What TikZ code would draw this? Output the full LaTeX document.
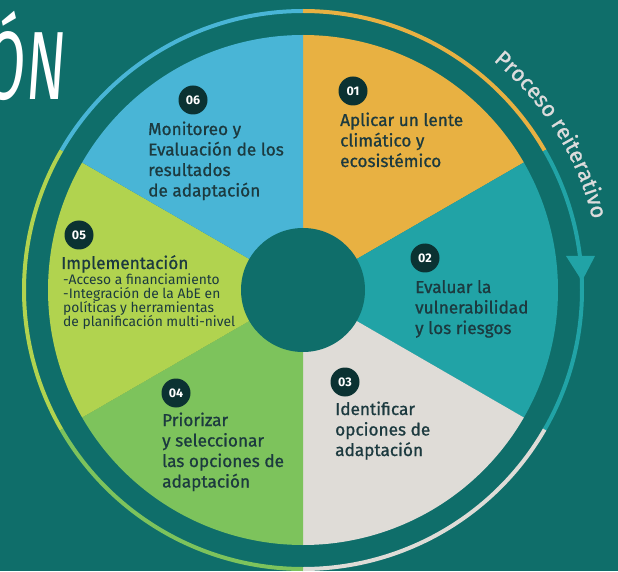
\documentclass[tikz,border=0pt]{standalone}
\usepackage{fontspec}
\setmainfont{Fira Sans}
\newfontfamily\medfont{Fira Sans}[FakeBold=0.9]
\newfontfamily\onfont{Fira Sans}[FakeSlant=0.12]
\usetikzlibrary{decorations.text,calc}
\definecolor{bg}{HTML}{0F6E6A}
\definecolor{cblue}{HTML}{49B5D6}
\definecolor{corange}{HTML}{E8B142}
\definecolor{cteal}{HTML}{21A3A6}
\definecolor{cgray}{HTML}{DFDCD7}
\definecolor{cgreen}{HTML}{7DC35C}
\definecolor{clgreen}{HTML}{B1D34F}
\definecolor{cdark}{HTML}{0B3232}
\definecolor{ctext}{HTML}{1C3A3F}
\definecolor{cproc}{HTML}{DCDCDC}
\tikzset{
  ring/.style={line width=4pt},
  numcircle/.style={circle, fill=cdark, text=white, minimum size=29pt, inner sep=0pt, font=\bfseries\fontsize{12.5}{12.5}\selectfont},
  titletext/.style={anchor=base west, align=left, inner sep=0pt, text=ctext, font=\medfont\fontsize{17.2}{20.5}\selectfont},
  smalltext/.style={anchor=base west, align=left, inner sep=0pt, text=ctext, font=\fontsize{13.8}{14.2}\selectfont},
}
\begin{document}
\begin{tikzpicture}[x=1pt,y=1pt]
\clip (0,0) rectangle (618,571);
\fill[bg] (0,0) rectangle (618,571);
\coordinate (C) at (303,281);
% sectors
\fill[corange] (C) -- ++(90:255) arc (90:30:255) -- cycle;
\fill[cteal] (C) -- ++(30:255) arc (30:-30:255) -- cycle;
\fill[cgray] (C) -- ++(-30:255) arc (-30:-90:255) -- cycle;
\fill[cgreen] (C) -- ++(-90:255) arc (-90:-150:255) -- cycle;
\fill[clgreen] (C) -- ++(-150:255) arc (-150:-210:255) -- cycle;
\fill[cblue] (C) -- ++(150:255) arc (150:90:255) -- cycle;
\fill[bg] (C) circle (62);
% outer ring
\draw[ring, cblue] (C) ++(90:279) arc (90:150:279);
\draw[ring, corange] (C) ++(90:279) arc (90:30:279);
\draw[ring, cteal] (C) ++(30:279) arc (30:-30:279);
\draw[ring, cgray] (C) ++(-30:279) arc (-30:-90:279);
\draw[ring, cgreen] (C) ++(-90:279) arc (-90:-150:279);
\draw[ring, clgreen] (C) ++(-150:279) arc (-150:-210:279);
\fill[cteal] ($(C)+(263,34)$) -- ($(C)+(292,34)$) -- ($(C)+(279,9)$) -- cycle;
% curved label
\path[decorate, decoration={text along path, text align=center,
  text={|\color{cproc}\medfont\fontsize{22}{22}\selectfont|Proceso reiterativo}}]
  (C) ++(60:298) arc (60:4:298);
% ON
\node[anchor=base east, inner sep=0pt, text=white] (on) at (64,471)
  {\scalebox{0.6}[1]{\onfont\fontsize{97}{97}\selectfont ÓN}};
% numbers
\node[numcircle] (n01) at (353,480) {01};
\node[numcircle] (n02) at (425,313) {02};
\node[numcircle] (n03) at (345,189) {03};
\node[numcircle] (n04) at (176,178) {04};
\node[numcircle] (n05) at (79,336) {05};
\node[numcircle] (n06) at (193,471) {06};
% texts (anchored at the baseline of their last line)
\node[titletext] (t01) at (340,404) {Aplicar un lente\\climático y\\ecosistémico};
\node[titletext] (t02) at (415,237) {Evaluar la\\vulnerabilidad\\y los riesgos};
\node[titletext] (t03) at (335,115) {Identificar\\opciones de\\adaptación};
\node[titletext] (t04) at (162,83.5) {Priorizar\\y seleccionar\\las opciones de\\adaptación};
\node[titletext] (t05) at (61,302) {Implementación};
\node[smalltext] (t05b) at (63,244.4) {-Acceso a financiamiento\\-Integración de la AbE en\\políticas y herramientas\\de planificación multi-nivel};
\node[titletext] (t06) at (148,374.5) {Monitoreo y\\Evaluación de los\\resultados\\de adaptación};
\end{tikzpicture}
\end{document}
